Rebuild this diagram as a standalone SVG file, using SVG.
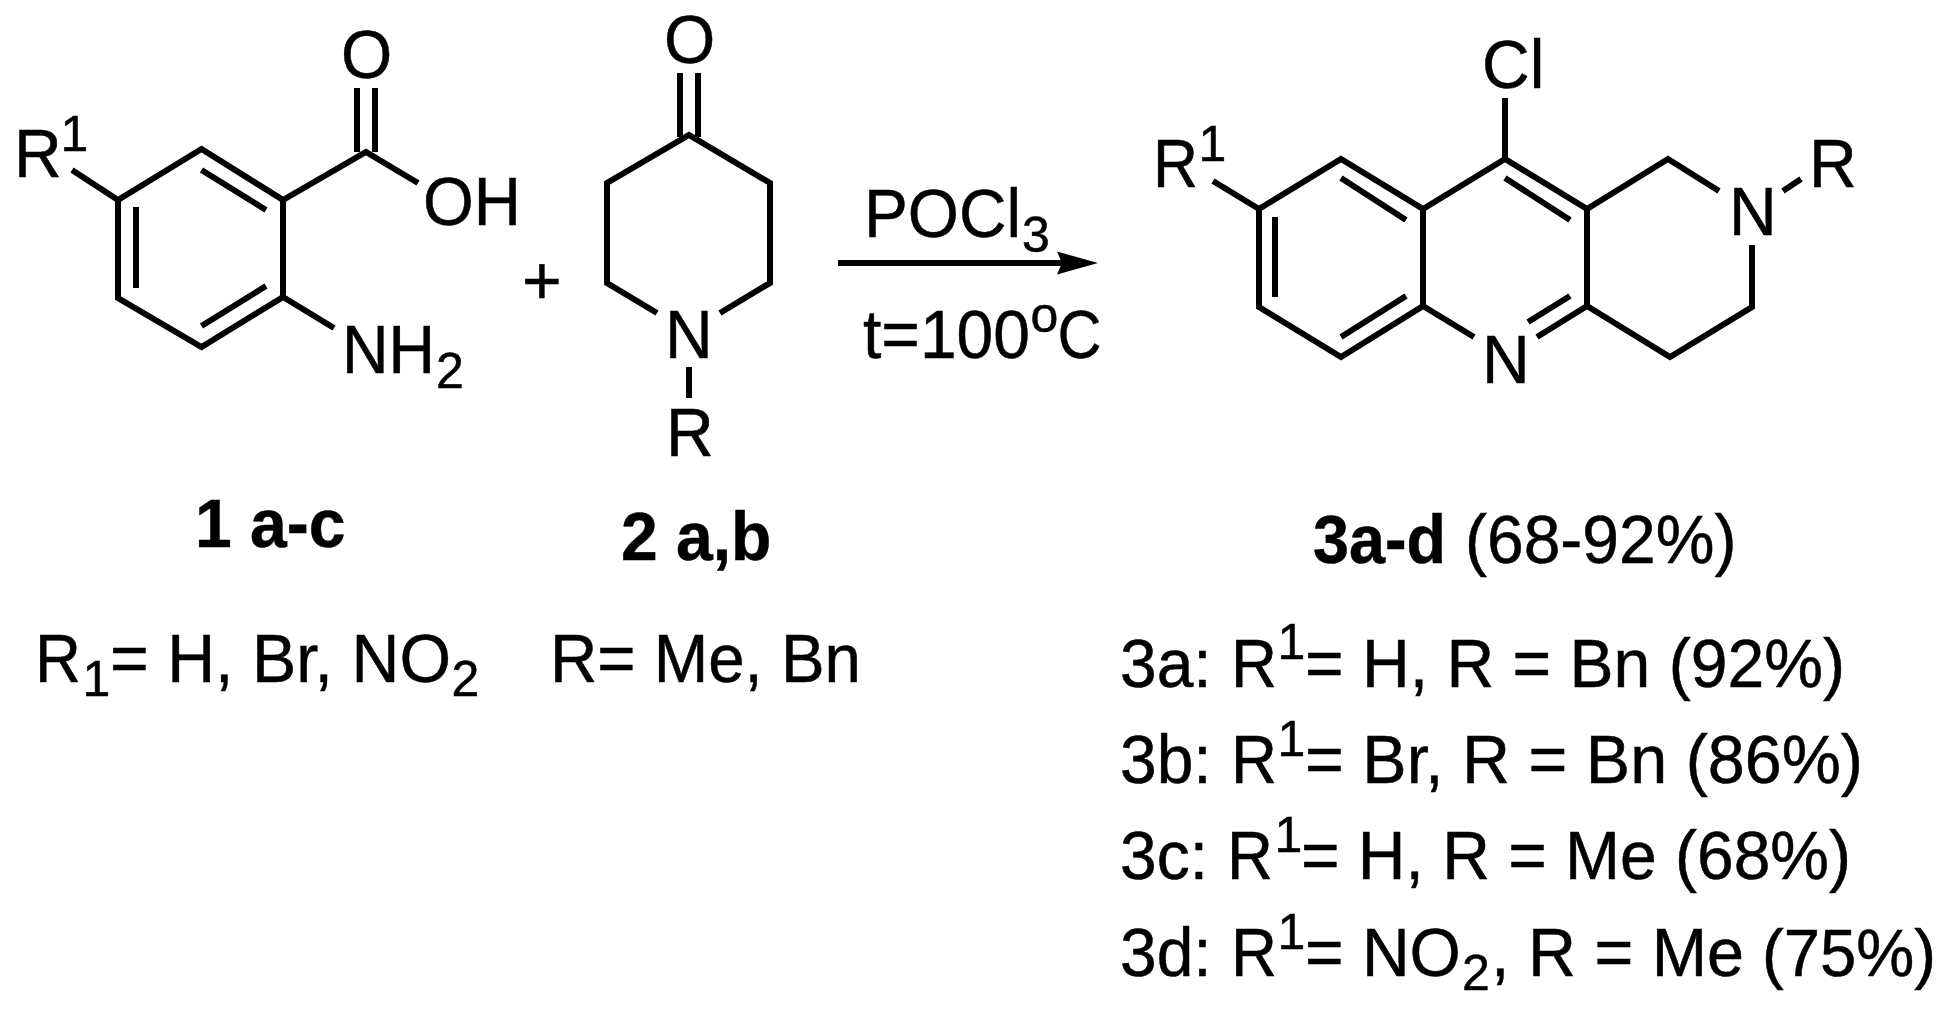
<svg xmlns="http://www.w3.org/2000/svg" width="1942" height="1010" viewBox="0 0 1942 1010">
<style>
text{font-family:"Liberation Sans",Arial,sans-serif;font-size:68px;fill:#000;stroke:#000;stroke-width:.5}
.s{font-size:50px}
.b{font-weight:bold}
.e{font-size:67px}
.bond{fill:none;stroke:#000;stroke-width:6;stroke-linejoin:miter;stroke-linecap:butt}
</style>
<defs>
<marker id="head" markerUnits="userSpaceOnUse" markerWidth="42" markerHeight="24" refX="5" refY="12" orient="auto">
<path d="M0 0.500L41 12L0 23.500L5 12Z" fill="#000"/>
</marker>
</defs>
<rect width="1942" height="1010" fill="#fff"/>
<g id="connectors">
<line x1="838" y1="263" x2="1062" y2="263" stroke="#000" stroke-width="6" marker-end="url(#head)"/>
</g>
<g id="compound-1">
<path class="bond" d="M118 200L201.500 149L283 200L283 297L201.500 347L118 298Z"/>
<path class="bond" d="M201.500 170L266 210M136 207V288M201.500 326L266 286M283 200L366 152L418 183M357 88V152M375 88V152M283 297L334 328M118 200L72 170"/>
<text x="341" y="78" textLength="51.300" lengthAdjust="spacingAndGlyphs">O</text>
<text x="423" y="225" textLength="98" lengthAdjust="spacingAndGlyphs">OH</text>
<text x="14" y="177" textLength="47.700" lengthAdjust="spacingAndGlyphs">R</text>
<text class="s" x="60.500" y="151">1</text>
<text x="342" y="373" textLength="93" lengthAdjust="spacingAndGlyphs">NH</text>
<text class="s" x="436" y="388">2</text>
</g>
<g id="plus"><text x="522" y="304">+</text></g>
<g id="compound-2">
<path class="bond" d="M657 313L607 283V183L689 135L770 183V283L720 313M680 73V137M698 73V137M689 367V398"/>
<text x="664" y="63" textLength="51.300" lengthAdjust="spacingAndGlyphs">O</text>
<text x="665" y="358" textLength="47.700" lengthAdjust="spacingAndGlyphs">N</text>
<text x="666" y="456" textLength="47.700" lengthAdjust="spacingAndGlyphs">R</text>
</g>
<g id="conditions">
<text x="864" y="237" textLength="157" lengthAdjust="spacingAndGlyphs">POCl</text>
<text class="s" x="1022" y="252">3</text>
<text x="863" y="358" textLength="167" lengthAdjust="spacingAndGlyphs">t=100</text>
<text class="s" x="1030.500" y="332">o</text>
<text x="1057.500" y="358" textLength="44" lengthAdjust="spacingAndGlyphs">C</text>
</g>
<g id="compound-3">
<path class="bond" d="M1259 209L1341 159L1423 209V306L1341 357L1259 307Z"/>
<path class="bond" d="M1423 209L1505 159L1587 209V306M1423 306L1474 337M1587 306L1537 337M1587 209L1668 159L1719 191M1752 245V307L1670 357L1587 306M1783 191L1801 179M1505 159V98M1259 209L1213 181"/>
<path class="bond" d="M1341 178L1406 220M1275 217V297M1341 337L1406 296M1505 178L1570 220M1570 296L1528 322"/>
<text x="1482" y="88" textLength="62.300" lengthAdjust="spacingAndGlyphs">Cl</text>
<text x="1482" y="383" textLength="47.700" lengthAdjust="spacingAndGlyphs">N</text>
<text x="1729" y="235" textLength="47.700" lengthAdjust="spacingAndGlyphs">N</text>
<text x="1809" y="187" textLength="47.700" lengthAdjust="spacingAndGlyphs">R</text>
<text x="1153" y="187" textLength="45" lengthAdjust="spacingAndGlyphs">R</text>
<text class="s" x="1198.500" y="161">1</text>
</g>
<g id="label-1"><text class="b" x="195" y="547" textLength="150.400" lengthAdjust="spacingAndGlyphs">1 a-c</text></g>
<g id="label-2"><text class="b" x="621" y="560" textLength="150.400" lengthAdjust="spacingAndGlyphs">2 a,b</text></g>
<g id="label-3"><text class="b" x="1313" y="563" textLength="133" lengthAdjust="spacingAndGlyphs">3a-d</text><text x="1465" y="563" textLength="271.400" lengthAdjust="spacingAndGlyphs">(68-92%)</text></g>
<g id="r1-list">
<text x="35" y="682" textLength="46" lengthAdjust="spacingAndGlyphs">R</text><text class="s" x="82.500" y="696">1</text>
<text x="110" y="682" textLength="341" lengthAdjust="spacingAndGlyphs">= H, Br, NO</text><text class="s" x="451.500" y="696">2</text>
</g>
<g id="r-list"><text x="550" y="682" textLength="311" lengthAdjust="spacingAndGlyphs">R= Me, Bn</text></g>
<g id="yield-3a">
<text x="1120" y="687" textLength="91.700" lengthAdjust="spacingAndGlyphs">3a:</text><text x="1231" y="687" textLength="46" lengthAdjust="spacingAndGlyphs">R</text><text class="s" x="1277.500" y="659">1</text>
<text x="1305" y="687" textLength="540" lengthAdjust="spacingAndGlyphs">= H, R = Bn (92%)</text>
</g>
<g id="yield-3b">
<text x="1120" y="783" textLength="91.700" lengthAdjust="spacingAndGlyphs">3b:</text><text x="1231" y="783" textLength="46" lengthAdjust="spacingAndGlyphs">R</text><text class="s" x="1277.500" y="756">1</text>
<text x="1305" y="783" textLength="558" lengthAdjust="spacingAndGlyphs">= Br, R = Bn (86%)</text>
</g>
<g id="yield-3c">
<text x="1120" y="879" textLength="88" lengthAdjust="spacingAndGlyphs">3c:</text><text x="1227" y="879" textLength="46" lengthAdjust="spacingAndGlyphs">R</text><text class="s" x="1274.500" y="852">1</text>
<text x="1301" y="879" textLength="550" lengthAdjust="spacingAndGlyphs">= H, R = Me (68%)</text>
</g>
<g id="yield-3d">
<text x="1120" y="976" textLength="91.700" lengthAdjust="spacingAndGlyphs">3d:</text><text x="1231" y="976" textLength="46" lengthAdjust="spacingAndGlyphs">R</text><text class="s" x="1277.500" y="949">1</text>
<text x="1305" y="976" textLength="155.900" lengthAdjust="spacingAndGlyphs">= NO</text><text class="s" x="1462" y="990">2</text>
<text x="1491" y="976" textLength="253" lengthAdjust="spacingAndGlyphs">, R = Me</text>
<text class="e" x="1762" y="976" textLength="174" lengthAdjust="spacingAndGlyphs">(75%)</text>
</g>
</svg>
